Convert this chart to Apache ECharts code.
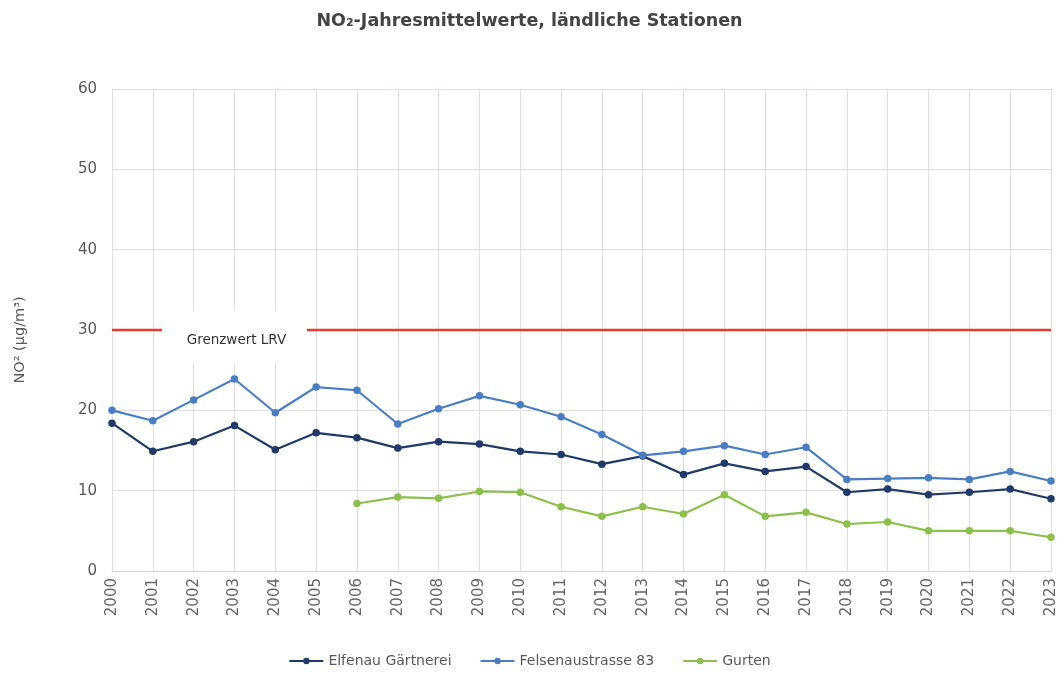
<!DOCTYPE html>
<html>
<head>
<meta charset="utf-8">
<script src="https://cdn.jsdelivr.net/npm/echarts@6/dist/echarts.min.js"></script>
<style>html,body{margin:0;padding:0;background:#fff;}#c{width:1059px;height:679px;}</style>
</head>
<body>
<div id="c"></div>
<script>
const years = ['2000','2001','2002','2003','2004','2005','2006','2007','2008','2009','2010','2011','2012','2013','2014','2015','2016','2017','2018','2019','2020','2021','2022','2023'];
const elfenau = [18.4,14.9,16.1,18.1,15.1,17.2,16.6,15.3,16.1,15.8,14.9,14.5,13.3,14.3,12.0,13.4,12.4,13.0,9.8,10.2,9.5,9.8,10.2,9.0];
const felsenau = [20.0,18.7,21.3,23.9,19.7,22.9,22.5,18.3,20.2,21.8,20.7,19.2,17.0,14.4,14.9,15.6,14.5,15.4,11.4,11.5,11.6,11.4,12.4,11.2];
const gurten = [null,null,null,null,null,null,8.4,9.2,9.05,9.9,9.8,8.0,6.8,8.0,7.1,9.5,6.8,7.3,5.85,6.1,5.0,5.0,5.0,4.2];
const limitValue = 30;
const limit = years.map(() => limitValue);
const yTicks = [0,10,20,30,40,50,60];

const font = 'DejaVu Sans, sans-serif';
const chart = echarts.init(document.getElementById('c'));
chart.setOption({
  animation: false,
  textStyle: { fontFamily: font },
  title: {
    text: 'NO₂-Jahresmittelwerte, ländliche Stationen',
    left: 'center', top: 7,
    textStyle: { fontSize: 17.5, fontWeight: 'bold', color: '#444', fontFamily: font }
  },
  grid: { left: 112, right: 8, top: 89, bottom: 108 },
  legend: {
    bottom: 6, left: 'center',
    data: ['Elfenau Gärtnerei', 'Felsenaustrasse 83', 'Gurten'],
    itemWidth: 34, itemHeight: 8, itemGap: 28,
    textStyle: { fontSize: 14, color: '#595959', fontFamily: font }
  },
  xAxis: {
    type: 'category', data: years, boundaryGap: false,
    axisLine: { lineStyle: { color: '#d9cfcf', width: 1 } },
    axisTick: { show: false },
    axisLabel: { rotate: 90, fontSize: 15, color: '#666', margin: 7 },
    splitLine: { show: true, lineStyle: { color: '#e6dede', width: 1 } }
  },
  yAxis: {
    type: 'value', min: yTicks[0], max: yTicks[yTicks.length-1], interval: 10,
    name: 'NO² (µg/m³)', nameLocation: 'middle', nameGap: 84, nameRotate: 90,
    nameTextStyle: { fontSize: 14.5, color: '#595959', padding: [0, 20, 0, 0] },
    axisLine: { show: true, lineStyle: { color: '#e6dede' } },
    axisTick: { show: false },
    axisLabel: { fontSize: 15, color: '#595959', margin: 15 },
    splitLine: { lineStyle: { color: '#e6dede', width: 1 } }
  },
  series: [
    {
      name: 'Grenzwert', type: 'line', data: limit, symbol: 'none', z: 1,
      lineStyle: { color: '#e8392e', width: 2.5 }, itemStyle: { color: '#e8392e' },
      markPoint: {
        silent: true,
        data: [{ coord: ['2003', 29.2], symbol: 'rect', symbolSize: [145, 52] }],
        itemStyle: { color: '#ffffff' },
        label: { show: true, formatter: 'Grenzwert LRV', color: '#333', fontSize: 13.5, offset: [2, 4] }
      }
    },
    {
      name: 'Elfenau Gärtnerei', type: 'line', data: elfenau, symbol: 'circle', symbolSize: 7.5, z: 3,
      lineStyle: { color: '#1f3a68', width: 2.2 }, itemStyle: { color: '#1f3a68' }
    },
    {
      name: 'Felsenaustrasse 83', type: 'line', data: felsenau, symbol: 'circle', symbolSize: 7.5, z: 3,
      lineStyle: { color: '#4a7ec4', width: 2.2 }, itemStyle: { color: '#4a7ec4' }
    },
    {
      name: 'Gurten', type: 'line', data: gurten, symbol: 'circle', symbolSize: 7.5, z: 3,
      lineStyle: { color: '#8dbf4c', width: 2.2 }, itemStyle: { color: '#8dbf4c' }
    }
  ]
});
</script>
</body>
</html>
